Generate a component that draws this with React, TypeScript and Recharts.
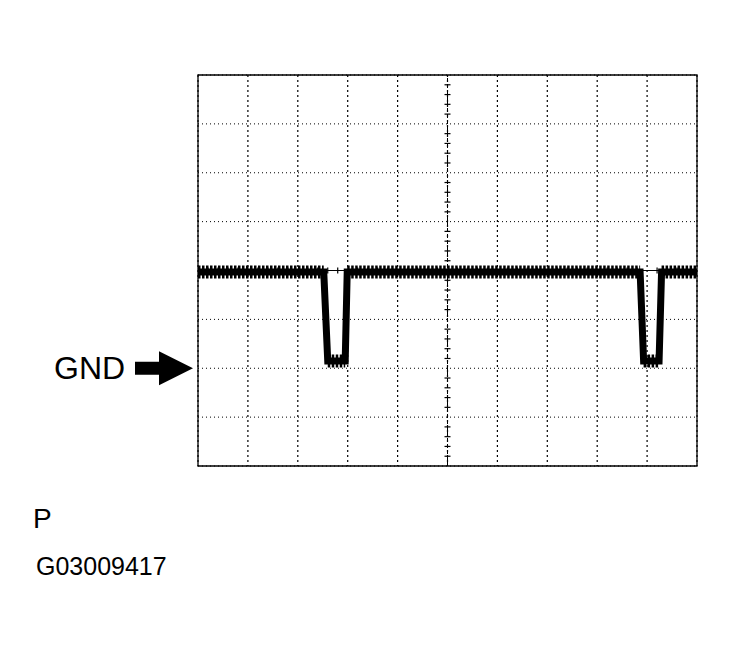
import React from "react";
import {
  LineChart,
  Line,
  XAxis,
  YAxis,
  CartesianGrid,
  ReferenceLine,
  ReferenceArea,
  ReferenceDot,
} from "recharts";

// scope screen: 10 x 8 divisions
const majorX = [0, 1, 2, 3, 4, 5, 6, 7, 8, 9, 10];
const majorY = [0, 1, 2, 3, 4, 5, 6, 7, 8];

// minor ticks on the centre crosshair (0.2 div)
const minorX = [
  0.2, 0.4, 0.6, 0.8, 1.2, 1.4, 1.6, 1.8, 2.2, 2.4, 2.6, 2.8, 3.2, 3.4, 3.6, 3.8,
  4.2, 4.4, 4.6, 4.8, 5.2, 5.4, 5.6, 5.8, 6.2, 6.4, 6.6, 6.8, 7.2, 7.4, 7.6, 7.8,
  8.2, 8.4, 8.6, 8.8, 9.2, 9.4, 9.6, 9.8,
];
const minorY = [
  0.2, 0.4, 0.6, 0.8, 1.2, 1.4, 1.6, 1.8, 2.2, 2.4, 2.6, 2.8, 3.2, 3.4, 3.6, 3.8,
  4.2, 4.4, 4.6, 4.8, 5.2, 5.4, 5.6, 5.8, 6.2, 6.4, 6.6, 6.8, 7.2, 7.4, 7.6, 7.8,
];

// waveform (divisions)
const traceX = [0, 2.52, 2.6, 2.95, 2.99, 8.86, 8.93, 9.24, 9.29, 10];
const traceV = [3.97, 3.97, 2.15, 2.15, 3.97, 3.97, 2.15, 2.15, 3.97, 3.97];

const gndLevel = 2;
const gndLabel = "GND";
const pLabel = "P";
const figCode = "G03009417";

const font = "'Liberation Sans', Arial, sans-serif";

const trace = traceX.map((x, i) => ({ x, y: traceV[i] }));

// flat parts of the trace carry the ripple
const rippleSegments = trace
  .slice(1)
  .map((p, i) => [trace[i], p])
  .filter(([a, b]) => a.y === b.y);

export default function App() {
  return (
    <div style={{ position: "absolute", left: 0, top: 0, width: 735, height: 649, background: "#fff" }}>
      <LineChart
        width={735}
        height={649}
        data={trace}
        margin={{ top: 75, right: 38, bottom: 183, left: 198 }}
      >
        <XAxis type="number" dataKey="x" domain={[0, 10]} ticks={majorX} hide allowDataOverflow />
        <YAxis type="number" domain={[0, 8]} ticks={majorY} hide allowDataOverflow />
        <CartesianGrid vertical={false} stroke="#000" strokeDasharray="1 3" />
        <CartesianGrid horizontal={false} stroke="#000" strokeWidth={1.2} strokeDasharray="2 3" />
        <ReferenceArea x1={0} x2={10} y1={0} y2={8} fill="none" stroke="#000" strokeWidth={1.3} ifOverflow="visible" />
        <ReferenceLine x={5} stroke="#000" strokeDasharray="4 2" />
        <ReferenceLine y={4} stroke="#000" strokeWidth={1} />
        {minorY.map((v) => (
          <ReferenceDot
            key={"my" + v}
            x={5}
            y={v}
            r={0}
            shape={(p: any) => (
              <line x1={p.cx - 3} x2={p.cx + 3} y1={p.cy} y2={p.cy} stroke="#000" strokeWidth={1.2} />
            )}
          />
        ))}
        {minorX.map((v) => (
          <ReferenceDot
            key={"mx" + v}
            x={v}
            y={4}
            r={0}
            shape={(p: any) => (
              <line x1={p.cx} x2={p.cx} y1={p.cy - 3} y2={p.cy + 3} stroke="#000" strokeWidth={1.2} />
            )}
          />
        ))}
        <Line
          type="linear"
          dataKey="y"
          stroke="#000"
          strokeWidth={7}
          strokeLinejoin="miter"
          dot={false}
          isAnimationActive={false}
        />
        {rippleSegments.map((seg, i) => (
          <Line
            key={"r" + i}
            data={seg}
            type="linear"
            dataKey="y"
            stroke="#000"
            strokeWidth={13}
            strokeDasharray="2.5 1.5"
            strokeLinecap="butt"
            dot={false}
            isAnimationActive={false}
          />
        ))}
        <ReferenceDot
          x={0}
          y={gndLevel}
          r={0}
          ifOverflow="visible"
          shape={(p: any) => (
            <g>
              <text x={p.cx - 144} y={p.cy + 11} fontSize={32} fontFamily={font} fill="#000">
                {gndLabel}
              </text>
              <rect x={p.cx - 63} y={p.cy - 6.5} width={26} height={13} fill="#000" />
              <polygon
                points={`${p.cx - 39},${p.cy - 17} ${p.cx - 5},${p.cy} ${p.cx - 39},${p.cy + 17}`}
                fill="#000"
              />
            </g>
          )}
        />
      </LineChart>
      <svg width={735} height={649} style={{ position: "absolute", left: 0, top: 0, pointerEvents: "none" }}>
        <text x={33} y={528} fontSize={28} fontFamily={font} fill="#000">
          {pLabel}
        </text>
        <text x={36} y={575} fontSize={25} fontFamily={font} fill="#000">
          {figCode}
        </text>
      </svg>
    </div>
  );
}
